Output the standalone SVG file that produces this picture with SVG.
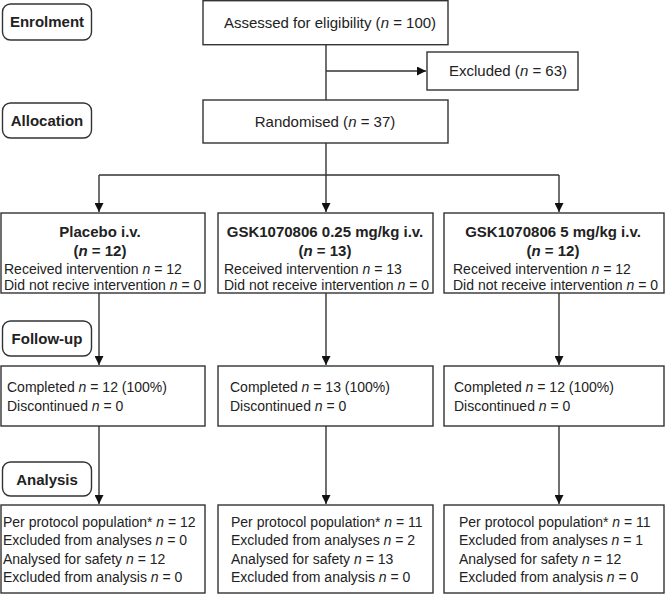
<svg xmlns="http://www.w3.org/2000/svg" width="665" height="595" viewBox="0 0 665 595">
<style>
text{font-family:"Liberation Sans",Arial,sans-serif;fill:#222;}
.b{font-size:14px;}
.m{font-size:15px;}
.t{font-size:15px;font-weight:bold;}
.c{text-anchor:middle;}
.i{font-style:italic;}
.box{fill:#fff;stroke:#333;stroke-width:1.4;}
.lab{fill:#fff;stroke:#333;stroke-width:1.4;}
.ln{fill:none;stroke:#333;stroke-width:1.4;}
</style>
<defs>
<marker id="ah" viewBox="0 0 10 10" refX="10" refY="5" markerWidth="9" markerHeight="9" markerUnits="userSpaceOnUse" orient="auto">
<path d="M0,0 L10,5 L0,10 z" fill="#111"/>
</marker>
</defs>
<rect width="665" height="595" fill="#fff"/>
<g id="connectors">
<line class="ln" x1="326" y1="45" x2="326" y2="100"/>
<line class="ln" x1="326" y1="71" x2="426" y2="71" marker-end="url(#ah)"/>
<line class="ln" x1="326" y1="143" x2="326" y2="175"/>
<line class="ln" x1="99" y1="175" x2="559" y2="175"/>
<line class="ln" x1="99" y1="175" x2="99" y2="212" marker-end="url(#ah)"/>
<line class="ln" x1="326" y1="175" x2="326" y2="212" marker-end="url(#ah)"/>
<line class="ln" x1="559" y1="175" x2="559" y2="212" marker-end="url(#ah)"/>
<line class="ln" x1="99" y1="293" x2="99" y2="365" marker-end="url(#ah)"/>
<line class="ln" x1="326" y1="293" x2="326" y2="365" marker-end="url(#ah)"/>
<line class="ln" x1="559" y1="293" x2="559" y2="365" marker-end="url(#ah)"/>
<line class="ln" x1="99" y1="426" x2="99" y2="504" marker-end="url(#ah)"/>
<line class="ln" x1="326" y1="426" x2="326" y2="504" marker-end="url(#ah)"/>
<line class="ln" x1="559" y1="426" x2="559" y2="504" marker-end="url(#ah)"/>
</g>
<g id="enrolment">
<rect class="lab" x="2.5" y="4" width="89" height="36" rx="8"/>
<text class="t c" x="47" y="27">Enrolment</text>
</g>
<g id="allocation">
<rect class="lab" x="2.5" y="103" width="89" height="35" rx="8"/>
<text class="t c" x="47" y="126">Allocation</text>
</g>
<g id="followup">
<rect class="lab" x="2.5" y="321" width="89" height="35" rx="8"/>
<text class="t c" x="47" y="344">Follow-up</text>
</g>
<g id="analysis">
<rect class="lab" x="2.5" y="462" width="89" height="34" rx="8"/>
<text class="t c" x="47" y="485">Analysis</text>
</g>
<g id="assessed">
<rect class="box" x="203" y="0.7" width="245" height="44"/>
<text class="m c" x="330" y="28">Assessed for eligibility (<tspan class="i">n</tspan> = 100)</text>
</g>
<g id="excluded">
<rect class="box" x="427" y="52" width="151" height="38"/>
<text class="m" x="449" y="76">Excluded (<tspan class="i">n</tspan> = 63)</text>
</g>
<g id="randomised">
<rect class="box" x="203" y="100" width="245" height="43"/>
<text class="m c" x="325" y="127">Randomised (<tspan class="i">n</tspan> = 37)</text>
</g>
<g id="arm1">
<rect class="box" x="1" y="213" width="204" height="80"/>
<text class="t c" x="100" y="237">Placebo i.v.</text>
<text class="t c" x="100" y="256">(<tspan class="i">n</tspan> = 12)</text>
<text class="b" x="4" y="274">Received intervention <tspan class="i">n</tspan> = 12</text>
<text class="b" x="4" y="290">Did not recive intervention <tspan class="i">n</tspan> = 0</text>
</g>
<g id="arm2">
<rect class="box" x="218" y="213" width="215" height="80"/>
<text class="t c" x="325" y="237">GSK1070806 0.25 mg/kg i.v.</text>
<text class="t c" x="325" y="256">(<tspan class="i">n</tspan> = 13)</text>
<text class="b" x="224" y="274">Received intervention <tspan class="i">n</tspan> = 13</text>
<text class="b" x="224" y="290">Did not receive intervention <tspan class="i">n</tspan> = 0</text>
</g>
<g id="arm3">
<rect class="box" x="444" y="213" width="220" height="80"/>
<text class="t c" x="553" y="237">GSK1070806 5 mg/kg i.v.</text>
<text class="t c" x="553" y="256">(<tspan class="i">n</tspan> = 12)</text>
<text class="b" x="453" y="274">Received intervention <tspan class="i">n</tspan> = 12</text>
<text class="b" x="453" y="290">Did not receive intervention <tspan class="i">n</tspan> = 0</text>
</g>
<g id="followup1">
<rect class="box" x="1" y="366" width="204" height="60"/>
<text class="b" x="7" y="392">Completed <tspan class="i">n</tspan> = 12 (100%)</text>
<text class="b" x="7" y="411">Discontinued <tspan class="i">n</tspan> = 0</text>
</g>
<g id="followup2">
<rect class="box" x="218" y="366" width="215" height="60"/>
<text class="b" x="230" y="392">Completed <tspan class="i">n</tspan> = 13 (100%)</text>
<text class="b" x="230" y="411">Discontinued <tspan class="i">n</tspan> = 0</text>
</g>
<g id="followup3">
<rect class="box" x="444" y="366" width="220" height="60"/>
<text class="b" x="454" y="392">Completed <tspan class="i">n</tspan> = 12 (100%)</text>
<text class="b" x="454" y="411">Discontinued <tspan class="i">n</tspan> = 0</text>
</g>
<g id="analysis1">
<rect class="box" x="1" y="505" width="204" height="88"/>
<text class="b" x="3" y="527">Per protocol population* <tspan class="i">n</tspan> = 12</text>
<text class="b" x="3" y="545">Excluded from analyses <tspan class="i">n</tspan> = 0</text>
<text class="b" x="3" y="564">Analysed for safety <tspan class="i">n</tspan> = 12</text>
<text class="b" x="3" y="582">Excluded from analysis <tspan class="i">n</tspan> = 0</text>
</g>
<g id="analysis2">
<rect class="box" x="218" y="505" width="215" height="88"/>
<text class="b" x="231" y="527">Per protocol population* <tspan class="i">n</tspan> = 11</text>
<text class="b" x="231" y="545">Excluded from analyses <tspan class="i">n</tspan> = 2</text>
<text class="b" x="231" y="564">Analysed for safety <tspan class="i">n</tspan> = 13</text>
<text class="b" x="231" y="582">Excluded from analysis <tspan class="i">n</tspan> = 0</text>
</g>
<g id="analysis3">
<rect class="box" x="444" y="505" width="220" height="88"/>
<text class="b" x="459" y="527">Per protocol population* <tspan class="i">n</tspan> = 11</text>
<text class="b" x="459" y="545">Excluded from analyses <tspan class="i">n</tspan> = 1</text>
<text class="b" x="459" y="564">Analysed for safety <tspan class="i">n</tspan> = 12</text>
<text class="b" x="459" y="582">Excluded from analysis <tspan class="i">n</tspan> = 0</text>
</g>
</svg>
